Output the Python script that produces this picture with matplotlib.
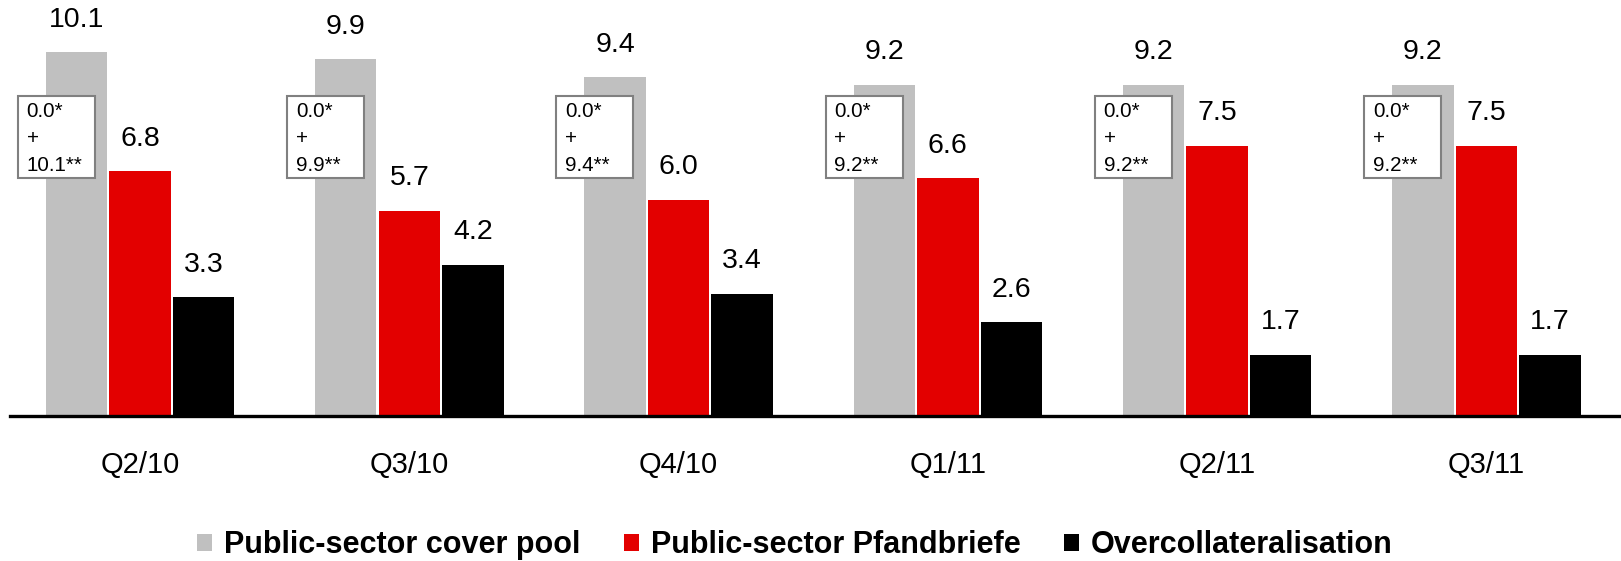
import numpy as np
import matplotlib
matplotlib.use('Agg')
import matplotlib.pyplot as plt
from matplotlib.patches import Rectangle, Patch

plt.rcParams['font.family'] = ['Liberation Sans', 'DejaVu Sans']

quarters = ['Q2/10', 'Q3/10', 'Q4/10', 'Q1/11', 'Q2/11', 'Q3/11']
cover_pool = [10.1, 9.9, 9.4, 9.2, 9.2, 9.2]
pfandbriefe = [6.8, 5.7, 6.0, 6.6, 7.5, 7.5]
overcoll = [3.3, 4.2, 3.4, 2.6, 1.7, 1.7]
box_first = [0.0, 0.0, 0.0, 0.0, 0.0, 0.0]
box_second = [10.1, 9.9, 9.4, 9.2, 9.2, 9.2]

series_names = ['Public-sector cover pool', 'Public-sector Pfandbriefe', 'Overcollateralisation']
colors = ['#C0C0C0', '#E30000', '#000000']

STEP = 0.236
WIDTH = 0.228

fig = plt.figure(figsize=(16.21, 5.61), dpi=100)
ax = fig.add_axes([10 / 1621, 145 / 561, 1 - 10 / 1621, 1 - 145 / 561])

x = np.arange(len(quarters))
for i, (vals, col) in enumerate(zip([cover_pool, pfandbriefe, overcoll], colors)):
	xs = x + (i - 1) * STEP
	ax.bar(xs, vals, width=WIDTH, color=col, edgecolor='none', zorder=2)
	for xi, v in zip(xs, vals):
		ax.annotate('%.1f' % v, (xi, v), xytext=(0, 14), textcoords='offset points',
			ha='center', va='bottom', fontsize=20.5)

# annotation boxes over the cover pool bars, one text line at a time
line_y = [8.31, 7.55, 6.79]
for xi, a, b in zip(x, box_first, box_second):
	left = xi - STEP - WIDTH / 2 - 0.104
	ax.add_patch(Rectangle((left, 6.61), 0.286, 2.28, facecolor='white',
		edgecolor='#808080', linewidth=1.5, zorder=4))
	for txt, yy in zip(['%.1f*' % a, '+', '%.1f**' % b], line_y):
		ax.text(left + 0.033, yy, txt, ha='left', va='baseline', fontsize=14.8, zorder=5)

ax.set_xlim(-0.483, 5.5)
ax.set_ylim(0, 11.55)
for s in ['top', 'right', 'left']:
	ax.spines[s].set_visible(False)
ax.spines['bottom'].set_linewidth(2.4)
ax.set_yticks([])
ax.set_xticks(x)
ax.set_xticklabels(quarters, fontsize=21)
ax.tick_params(axis='x', length=0, pad=25)

handles = [Patch(facecolor=c, edgecolor='none') for c in colors]
fig.legend(handles, series_names, loc='center', bbox_to_anchor=(795 / 1621, 1 - 545 / 561),
	ncol=3, frameon=False, prop={'weight': 'bold', 'size': 22},
	handlelength=0.49, handleheight=0.49, handletextpad=0.38, columnspacing=1.44)

fig.savefig('out.png', dpi=100)
